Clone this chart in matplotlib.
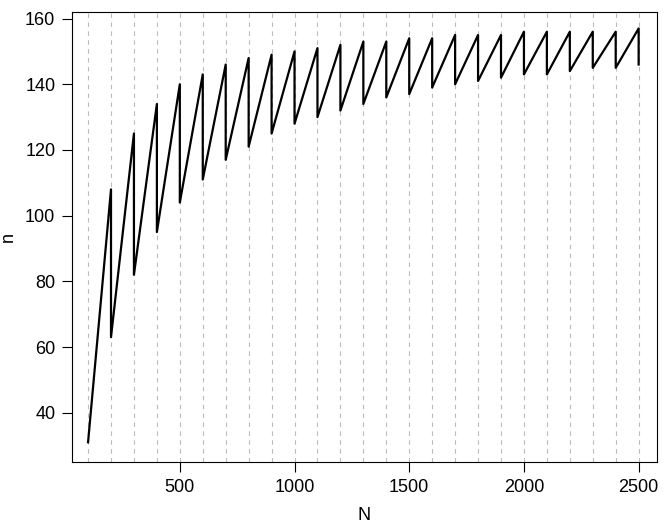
import matplotlib
matplotlib.use("Agg")
import matplotlib.pyplot as plt

N_points = list(range(100, 2600, 100))
lows = [31, 63, 82, 95, 104, 111, 117, 121, 125, 128, 130, 132, 134, 136, 137, 139, 140, 141, 142, 143, 143, 144, 145, 145, 146]
highs = [108, 125, 134, 140, 143, 146, 148, 149, 150, 151, 152, 153, 153, 154, 154, 155, 155, 155, 156, 156, 156, 156, 156, 157]

xs, ys = [], []
for i in range(len(highs)):
    xs += [N_points[i], N_points[i+1]]
    ys += [lows[i], highs[i]]
xs.append(N_points[-1]); ys.append(lows[-1])

plt.rcParams['font.family'] = ['Liberation Sans', 'DejaVu Sans']
fig = plt.figure(figsize=(6.68, 5.27), dpi=100)
ax = fig.add_axes([72/668, 65/527, 585/668, 450/527])
for x in N_points:
    ax.axvline(x, color="#bbbbbb", ls=(0, (4, 4)), lw=0.8, zorder=0)
ax.plot(xs, ys, color="black", lw=1.6)
ax.set_xlim(30, 2580)
ax.set_ylim(25, 162)
ax.set_xticks([500, 1000, 1500, 2000, 2500])
ax.set_yticks([40, 60, 80, 100, 120, 140, 160])
ax.tick_params(direction="out", labelsize=13, length=7, pad=5)
ax.set_xlabel("N", fontsize=13, labelpad=8)
ax.set_ylabel("n", fontsize=13, labelpad=6)
fig.savefig("out.png")
